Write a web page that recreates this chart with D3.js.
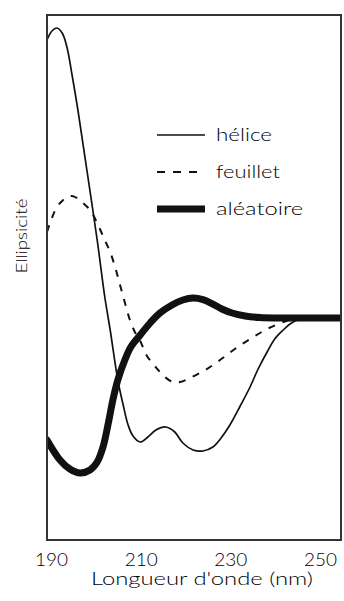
<!DOCTYPE html>
<html>
<head>
<meta charset="utf-8">
<script src="https://cdn.jsdelivr.net/npm/d3@7/dist/d3.min.js"></script>
<style>
  html, body { margin: 0; padding: 0; background: #fff; overflow: hidden; }
  svg { display: block; }
  text { font-family: Lato, "DejaVu Sans", sans-serif; font-weight: 300; fill: #000; }
</style>
</head>
<body>
<svg id="chart" width="344" height="601"></svg>
<script>
// Circular dichroism spectra of the three secondary-structure types
// wavelength in nm, ellipticity in arbitrary units (0 = baseline)

const heliceNm  = [189.1, 190.2, 191.3, 192.5, 193.6, 194.7, 196.0, 198.0, 200.3, 202.0, 203.2, 204.9,
                   206.1, 207.2, 208.3, 209.9, 211.6, 213.4, 215.6, 217.6, 219.4, 221.7, 223.9, 226.1,
                   228.1, 229.9, 232.2, 234.4, 236.2, 238.2, 239.9, 241.8, 243.3, 244.9, 246.7, 255.0];
const heliceVal = [13.9, 14.35, 14.5, 14.25, 13.5, 12.15, 10.4, 7.4, 3.9, 1.05, -0.6, -3.1,
                   -4.35, -5.35, -5.9, -6.2, -5.95, -5.6, -5.45, -5.7, -6.25, -6.6, -6.65, -6.45,
                   -5.95, -5.35, -4.4, -3.45, -2.55, -1.7, -1.05, -0.6, -0.3, -0.1, 0, 0];

const feuilletNm  = [189.1, 190.2, 191.3, 192.5, 193.6, 194.7, 195.8, 196.9, 198.3, 199.4, 200.5, 201.4,
                     202.3, 203.2, 204.3, 205.4, 206.5, 207.6, 208.7, 209.9, 211.4, 212.8, 213.9,
                     215.4, 217.2, 218.8, 221.0, 224.4, 227.7, 231.0, 234.4, 238.2, 241.8, 244.0, 245.5, 255.0];
const feuilletVal = [4.3, 5.0, 5.55, 5.85, 6.05, 6.1, 6.0, 5.8, 5.5, 5.15, 4.65, 4.2,
                     3.75, 3.3, 2.55, 1.65, 0.75, -0.1, -0.7, -1.15, -1.9, -2.3, -2.6,
                     -2.95, -3.2, -3.2, -3.0, -2.6, -2.1, -1.55, -1.05, -0.55, -0.2, -0.05, 0, 0];

const aleatoireNm  = [189.1, 192.0, 194.2, 196.5, 198.7, 200.3, 201.6, 202.7, 203.8, 204.9, 206.3, 207.8,
                      209.9, 212.1, 214.3, 217.0, 219.4, 221.7, 223.9, 225.9, 228.1, 230.4, 233.3,
                      236.6, 241.1, 255.0];
const aleatoireVal = [-6.1, -7.1, -7.55, -7.75, -7.6, -7.2, -6.45, -5.35, -4.1, -3.1, -2.2, -1.45,
                      -0.85, -0.25, 0.25, 0.65, 0.9, 1.0, 0.92, 0.72, 0.45, 0.25, 0.1,
                      0.02, 0, 0];

const tickLabels = [190, 210, 230, 250];
const legendLabels = ["hélice", "feuillet", "aléatoire"];

const svg = d3.select("#chart");
const frame = { left: 47, right: 341, top: 15, bottom: 540 };

const x = d3.scaleLinear().domain([190, 250]).range([51, 320]);
const y = d3.scaleLinear().domain([-11.1, 15.15]).range([frame.bottom, frame.top]);

const styles = [
  { label: legendLabels[0], nm: heliceNm,    val: heliceVal,    width: 1.7, dash: null },
  { label: legendLabels[1], nm: feuilletNm,  val: feuilletVal,  width: 2.0, dash: "7,8" },
  { label: legendLabels[2], nm: aleatoireNm, val: aleatoireVal, width: 7,   dash: null }
];

svg.append("rect").attr("width", 344).attr("height", 601).attr("fill", "#fff");

svg.append("defs").append("clipPath").attr("id", "plot-clip")
  .append("rect")
  .attr("x", frame.left).attr("y", frame.top)
  .attr("width", frame.right - frame.left).attr("height", frame.bottom - frame.top);

const line = d3.line()
  .x(d => x(d[0]))
  .y(d => y(d[1]))
  .curve(d3.curveCatmullRom.alpha(0.5));

const curves = svg.append("g").attr("clip-path", "url(#plot-clip)");
styles.forEach(s => {
  curves.append("path")
    .datum(d3.zip(s.nm, s.val))
    .attr("d", line)
    .attr("fill", "none")
    .attr("stroke", "#111")
    .attr("stroke-width", s.width)
    .attr("stroke-linejoin", "round")
    .attr("stroke-linecap", s.dash ? "butt" : "round")
    .attr("stroke-dasharray", s.dash);
});

// plot frame
svg.append("rect")
  .attr("x", frame.left).attr("y", frame.top)
  .attr("width", frame.right - frame.left).attr("height", frame.bottom - frame.top)
  .attr("fill", "none").attr("stroke", "#333").attr("stroke-width", 2);

// x axis: labels only, no tick marks
const xAxis = d3.axisBottom(x).tickValues(tickLabels).tickSize(0).tickPadding(0).tickFormat(d3.format("d"));
const gx = svg.append("g").attr("transform", `translate(0,${frame.bottom})`).call(xAxis);
gx.select(".domain").remove();
gx.selectAll("text")
  .attr("y", 26).attr("dy", 0)
  .attr("font-size", 18)
  .style("font-family", "Lato, \"DejaVu Sans\", sans-serif")
  .style("font-weight", 300)
  .style("fill", "#000")
  .attr("textLength", 33).attr("lengthAdjust", "spacingAndGlyphs");

svg.append("text")
  .attr("x", 202).attr("y", 585)
  .attr("text-anchor", "middle")
  .attr("font-size", 17)
  .attr("textLength", 222).attr("lengthAdjust", "spacingAndGlyphs")
  .text("Longueur d'onde (nm)");

svg.append("text")
  .attr("transform", "translate(27,236) rotate(-90)")
  .attr("text-anchor", "middle")
  .attr("font-size", 16)
  .attr("textLength", 75).attr("lengthAdjust", "spacingAndGlyphs")
  .text("Ellipsicité");

// legend
const legendRows = [135, 172, 209];
const legendTextWidths = [56, 64, 87];
const lg = svg.append("g");
styles.forEach((s, i) => {
  lg.append("line")
    .attr("x1", 157).attr("x2", s.dash ? 197 : 205)
    .attr("y1", legendRows[i]).attr("y2", legendRows[i])
    .attr("stroke", "#111")
    .attr("stroke-width", s.width)
    .attr("stroke-dasharray", s.dash ? "8,8" : null);
  lg.append("text")
    .attr("x", 216).attr("y", legendRows[i] + 6)
    .attr("font-size", 18)
    .attr("textLength", legendTextWidths[i]).attr("lengthAdjust", "spacingAndGlyphs")
    .text(s.label);
});
</script>
</body>
</html>
